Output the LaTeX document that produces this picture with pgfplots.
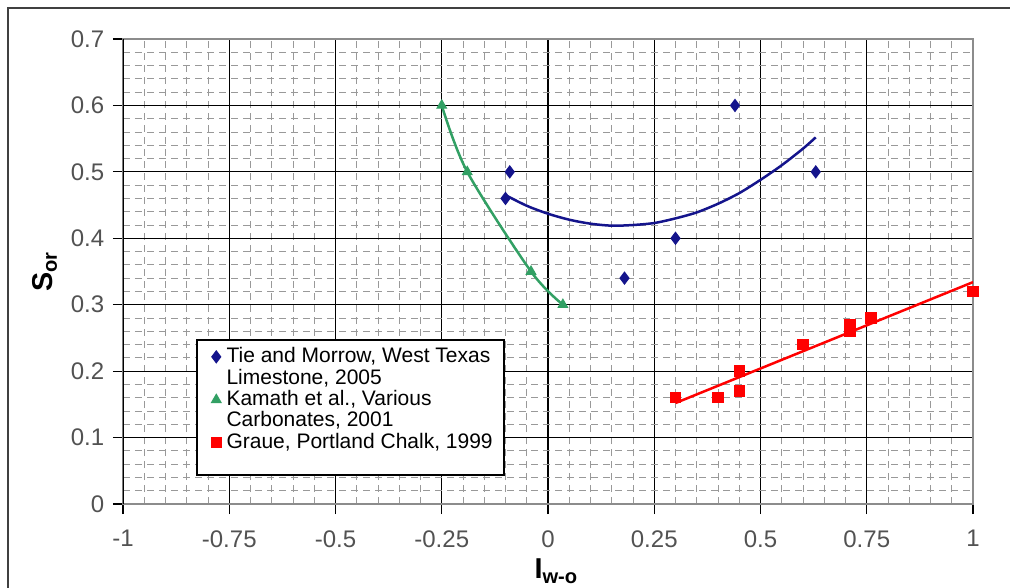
\documentclass[border=0pt]{standalone}
\usepackage{fontspec}
\setmainfont{Liberation Sans}
\usepackage{pgfplots}
\pgfplotsset{compat=1.18}

\definecolor{tieblue}{RGB}{20,20,140}
\definecolor{kamgreen}{RGB}{50,160,100}
\definecolor{grauered}{RGB}{255,0,0}

\begin{document}
\begin{tikzpicture}
\clip (-49.2pt,-33.6pt) rectangle (354.8pt,201.6pt);
% outer chart frame
\draw[line width=0.8pt, black!75] (-46pt,-40pt) -- (-46pt,198.4pt) -- (360pt,198.4pt);
\begin{axis}[
    scale only axis, width=340pt, height=186pt,
    xmin=-1, xmax=1, ymin=0, ymax=0.7,
    xtick={-1,-0.75,-0.5,-0.25,0,0.25,0.5,0.75,1},
    xticklabels={-1,-0.75,-0.5,-0.25,0,0.25,0.5,0.75,1},
    ytick={0,0.1,0.2,0.3,0.4,0.5,0.6,0.7},
    yticklabels={0,0.1,0.2,0.3,0.4,0.5,0.6,0.7},
    xtick pos=bottom, ytick pos=left,
    minor x tick num=4, minor y tick num=4,
    grid=both,
    major grid style={black, line width=0.5pt},
    minor grid style={black!40, line width=0.4pt, dash pattern=on 2.8pt off 2pt},
    tick align=outside, major tick length=4pt, minor tick length=0pt,
    major tick style={black, line width=0.5pt},
    axis line style={black!45, line width=0.6pt},
    tick label style={font=\fontsize{9.6}{11}\selectfont, text=black!68},
    xticklabel style={yshift=-3pt},
    xlabel={\textbf{I}\textsubscript{\textbf{w-o}}},
    ylabel={\textbf{S}\textsubscript{\textbf{or}}},
    label style={font=\fontsize{11.5}{12}\selectfont},
    xlabel style={at={(axis description cs:0.51,-0.145)}, anchor=center},
    ylabel style={at={(axis description cs:-0.092,0.5)}, anchor=center},
    legend style={at={(axis description cs:0.087,0.353)}, anchor=north west,
        yshift=1.2pt, draw=none, fill=none,
        font=\fontsize{8.4}{8.6}\selectfont, cells={anchor=west},
        inner xsep=2pt, inner ysep=2pt, row sep=-3pt},
    legend image post style={xshift=-3pt},
]
% legend frame (legend itself has no border)
\draw[black, line width=0.6pt, fill=white]
    (axis description cs:0.0871,0.3527) rectangle (axis description cs:0.448,0.0624);
% trend lines
\addplot[tieblue, line width=1pt, smooth, forget plot] coordinates {
    (-0.10,0.465)(-0.05,0.449)(0,0.437)(0.05,0.428)(0.10,0.422)(0.15,0.419)
    (0.20,0.420)(0.25,0.423)(0.30,0.430)(0.35,0.439)(0.40,0.452)(0.45,0.468)
    (0.50,0.488)(0.55,0.510)(0.60,0.535)(0.63,0.552)
};
\addplot[kamgreen, line width=1pt, smooth, forget plot] coordinates {
    (-0.25,0.60)(-0.19,0.50)(-0.04,0.35)(0.035,0.30)
};
\addplot[grauered, line width=1pt, forget plot] coordinates {
    (0.30,0.152)(1.0,0.334)
};
% data
\addplot[only marks, mark=diamond*, mark size=2.4pt, color=tieblue] coordinates {
    (-0.09,0.50)(-0.10,0.46)(0.44,0.60)(0.63,0.50)(0.30,0.40)(0.18,0.34)
};
\addlegendentry{Tie and Morrow, West Texas}
\addlegendimage{empty legend}
\addlegendentry{Limestone, 2005}
\addplot[only marks, mark=triangle*, mark size=2.2pt, color=kamgreen] coordinates {
    (-0.25,0.60)(-0.19,0.50)(-0.04,0.35)(0.035,0.30)
};
\addlegendentry{Kamath et al., Various}
\addlegendimage{empty legend}
\addlegendentry{Carbonates, 2001}
\addplot[only marks, mark=square*, mark size=2.1pt, color=grauered] coordinates {
    (0.30,0.16)(0.40,0.16)(0.45,0.20)(0.45,0.17)(0.60,0.24)(0.71,0.26)(0.71,0.27)(0.76,0.28)(1.0,0.32)
};
\addlegendentry{Graue, Portland Chalk, 1999}
% left axis line is black in the original
\draw[black, line width=0.6pt] (rel axis cs:0,0) -- (rel axis cs:0,1);
\end{axis}
\end{tikzpicture}
\end{document}
